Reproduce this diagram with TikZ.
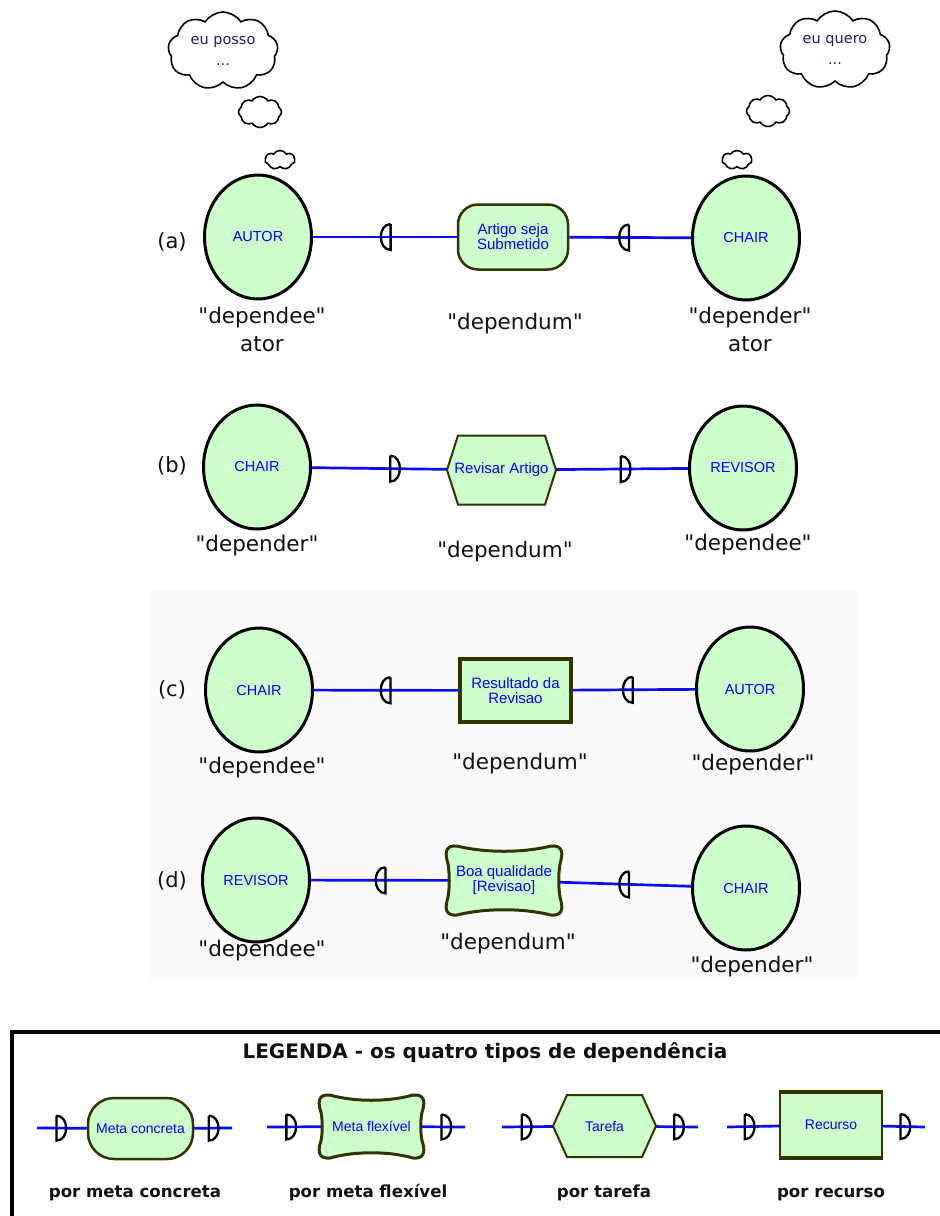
\documentclass[tikz,border=0pt]{standalone}
\usepackage{fontspec}
\usetikzlibrary{shapes.geometric,shapes.symbols}
\newfontfamily\handfont{DejaVu Sans}
\newfontfamily\arialfont{Liberation Sans}
\newfontfamily\legendfont{DejaVu Sans}
\definecolor{actorfill}{HTML}{CCFFCC}
\definecolor{edgeolive}{HTML}{333300}
\definecolor{linkblue}{HTML}{0A0AFF}
\definecolor{textblue}{HTML}{0000FF}
\definecolor{inkdark}{HTML}{111111}
\definecolor{thoughtink}{HTML}{1E2060}
\definecolor{panelgray}{HTML}{FAFAFA}
\tikzset{
  actor/.style={ellipse, draw=black, line width=3pt, fill=actorfill,
    minimum width=107pt, minimum height=124pt, inner sep=0pt,
    font=\arialfont\fontsize{14.5}{15}\selectfont, text=textblue},
  elemtext/.style={align=center, inner sep=0pt,
    font=\arialfont\fontsize{15}{15}\selectfont, text=textblue},
  goalbox/.style={elemtext, rectangle, rounded corners=20pt, draw=edgeolive,
    line width=2.5pt, fill=actorfill},
  resbox/.style={elemtext, rectangle, draw=edgeolive, line width=3.5pt,
    fill=actorfill},
  ghost/.style={elemtext, rectangle},
  dep/.style={draw=linkblue, line width=2.7pt},
  dmk/.style={draw=black, line width=2.3pt},
  tasklines/.style={draw=edgeolive, line width=2pt, fill=actorfill},
  softlines/.style={draw=edgeolive, line width=3pt, fill=actorfill},
  role/.style={align=center, font=\handfont\fontsize{21.5}{28}\selectfont, text=inkdark},
  rowtag/.style={font=\handfont\fontsize{21}{24}\selectfont, text=inkdark},
  legtext/.style={anchor=base, font=\legendfont\bfseries\fontsize{16.6}{18}\selectfont, text=inkdark},
  thought/.style={cloud, cloud ignores aspect, cloud puffs=9, cloud puff arc=115,
    draw=black, line width=1.6pt, fill=white, align=center, inner sep=0pt,
    font=\handfont\fontsize{14.5}{21}\selectfont, text=thoughtink},
  puff/.style={cloud, cloud ignores aspect, cloud puffs=8, cloud puff arc=115,
    draw=black, line width=1.6pt, fill=white, inner sep=0pt},
  % D mark, bulge to the right
  pics/dright/.style={code={\draw[dmk] (0,-#1) -- (0,#1) .. controls (13,#1) and (13,-#1) .. (0,-#1);}},
  % D mark, bulge to the left
  pics/dleft/.style={code={\draw[dmk] (0,-#1) -- (0,#1) .. controls (-13,#1) and (-13,-#1) .. (0,-#1);}},
  % task hexagon: half width, half height, inset of the top edge
  pics/hexa/.style n args={3}{code={\draw[tasklines] (-#1,0) -- (-#1+#3,-#2) -- (#1-#3,-#2)
      -- (#1,0) -- (#1-#3,#2) -- (-#1+#3,#2) -- cycle;}},
  % softgoal outline: half width, half height
  pics/softg/.style n args={2}{code={\draw[softlines]
      (-#1+10,-#2) .. controls (-#1/3,-#2+7) and (#1/3,-#2+7) .. (#1-10,-#2)
      .. controls (#1+1,-#2-1) and (#1+2,-#2+6) .. (#1,-#2+14)
      .. controls (#1-3,-#2/3) and (#1-3,#2/3) .. (#1,#2-14)
      .. controls (#1+2,#2-6) and (#1+1,#2+1) .. (#1-10,#2)
      .. controls (#1/3,#2-7) and (-#1/3,#2-7) .. (-#1+10,#2)
      .. controls (-#1-1,#2+1) and (-#1-2,#2-6) .. (-#1,#2-14)
      .. controls (-#1+3,#2/3) and (-#1+3,-#2/3) .. (-#1,-#2+14)
      .. controls (-#1-2,-#2+6) and (-#1-1,-#2-1) .. (-#1+10,-#2) -- cycle;}},
}
\begin{document}
\begin{tikzpicture}[x=1pt,y=-1pt]
\useasboundingbox (0,0) rectangle (940,1216);
\clip (0,0) rectangle (940,1216);
\fill[white] (0,0) rectangle (940,1216);
\fill[panelgray] (150,590) rectangle (857,980);

% thought clouds
\node[thought, minimum width=110pt, minimum height=78pt] (thinkL) at (223,51) {eu posso\\...};
\node[puff, minimum width=43pt, minimum height=31pt] (thinkL2) at (260,112) {};
\node[puff, cloud puffs=7, minimum width=30pt, minimum height=19pt] (thinkL3) at (280,160) {};
\node[thought, minimum width=110pt, minimum height=78pt] (thinkR) at (835,50) {eu quero\\...};
\node[puff, minimum width=43pt, minimum height=31pt] (thinkR2) at (768,111) {};
\node[puff, cloud puffs=7, minimum width=30pt, minimum height=19pt] (thinkR3) at (737,160) {};

% ---- (a) goal dependency
\node[rowtag] (tagA) at (172,242) {(a)};
\node[actor] (autorA) at (258,237) {AUTOR};
\node[goalbox, minimum width=110pt, minimum height=65pt] (goalA) at (513,237) {Artigo seja\\Submetido};
\node[actor] (chairA) at (746,238) {CHAIR};
\draw[dep] (autorA) -- coordinate[pos=.54] (mA1) (goalA);
\draw[dep] (goalA) -- coordinate[pos=.49] (mA2) (chairA);
\pic at (mA1) {dleft=13};
\pic at (mA2) {dleft=13};
\node[role] (rA1) at (262,329) {"dependee"\\ator};
\node[role] (rA2) at (515,324) {"dependum"};
\node[role] (rA3) at (750,329) {"depender"\\ator};

% ---- (b) task dependency
\node[rowtag] (tagB) at (172,466) {(b)};
\node[actor] (chairB) at (257,467) {CHAIR};
\node[ghost, minimum width=109pt, minimum height=69pt] (taskB) at (501.5,470) {};
\node[actor] (revB) at (743,468) {REVISOR};
\draw[dep] (chairB) -- coordinate[pos=.58] (mB1) (taskB);
\draw[dep] (taskB) -- coordinate[pos=.49] (mB2) (revB);
\pic at (taskB) {hexa={54.5}{34.5}{11}};
\node[elemtext] at (taskB) {Revisar Artigo};
\pic at (mB1) {dright=13};
\pic at (mB2) {dright=13};
\node[role] (rB1) at (257,546) {"depender"};
\node[role] (rB2) at (505,552) {"dependum"};
\node[role] (rB3) at (748,545) {"dependee"};

% ---- (c) resource dependency
\node[rowtag] (tagC) at (172,690) {(c)};
\node[actor] (chairC) at (259,690) {CHAIR};
\node[resbox, minimum width=111pt, minimum height=63pt] (resC) at (515.5,690.5) {Resultado da\\Revisao};
\node[actor] (autorC) at (750,689) {AUTOR};
\draw[dep] (chairC) -- coordinate[pos=.53] (mC1) (resC);
\draw[dep] (resC) -- coordinate[pos=.49] (mC2) (autorC);
\pic at (mC1) {dleft=13};
\pic at (mC2) {dleft=13};
\node[role] (rC1) at (262,768) {"dependee"};
\node[role] (rC2) at (520,764) {"dependum"};
\node[role] (rC3) at (753,765) {"depender"};

% ---- (d) softgoal dependency
\node[rowtag] (tagD) at (172,881) {(d)};
\node[actor] (revD) at (256,880) {REVISOR};
\node[ghost, minimum width=110pt, minimum height=66pt] (softD) at (504,880.5) {};
\node[actor] (chairD) at (746,888) {CHAIR};
\draw[dep] (revD) -- coordinate[pos=.54] (mD1) (softD);
\draw[dep] (softD) -- coordinate[pos=.53] (mD2) (chairD);
\pic at (softD) {softg={57}{34.5}};
\node[elemtext] at (softD) {Boa qualidade\\{[Revisao]}};
\pic at (mD1) {dleft=13};
\pic at (mD2) {dleft=13};
\node[role] (rD1) at (262,951) {"dependee"};
\node[role] (rD2) at (508,944) {"dependum"};
\node[role] (rD3) at (752,967) {"depender"};

% ---- legend
\draw[line width=4.5pt] (12,1032) rectangle (980,1260);
\node[font=\legendfont\bfseries\fontsize{20}{22}\selectfont, text=inkdark] (legTitle) at (485,1053)
  {LEGENDA - os quatro tipos de dependência};

% concrete goal
\coordinate (l1s) at (37,1128);
\coordinate (l1e) at (232,1128);
\node[goalbox, rounded corners=26pt, minimum width=105pt, minimum height=61pt,
  font=\arialfont\fontsize{14}{15}\selectfont] (lg1) at (140.5,1128.5) {Meta concreta};
\draw[dep] (l1s) -- coordinate[pos=.39] (n1a) (lg1);
\draw[dep] (lg1) -- coordinate[pos=.385] (n1b) (l1e);
\pic at (n1a) {dright=12.5};
\pic at (n1b) {dright=12.5};
\node[legtext] (lt1) at (135,1197) {por meta concreta};

% softgoal
\coordinate (l2s) at (267,1127);
\coordinate (l2e) at (465,1127);
\node[ghost, minimum width=101pt, minimum height=60pt,
  font=\arialfont\fontsize{14}{15}\selectfont] (lg2) at (371.5,1126.5) {};
\draw[dep] (l2s) -- coordinate[pos=.36] (n2a) (lg2);
\draw[dep] (lg2) -- coordinate[pos=.45] (n2b) (l2e);
\pic at (lg2) {softg={51.5}{31.5}};
\node[elemtext, font=\arialfont\fontsize{14}{15}\selectfont] at (lg2) {Meta flexível};
\pic at (n2a) {dright=12.5};
\pic at (n2b) {dright=12.5};
\node[legtext] (lt2) at (368,1197) {por meta flexível};

% task
\coordinate (l3s) at (502,1127);
\coordinate (l3e) at (698,1127);
\node[ghost, minimum width=103pt, minimum height=62pt] (lg3) at (604.5,1126) {};
\draw[dep] (l3s) -- coordinate[pos=.39] (n3a) (lg3);
\draw[dep] (lg3) -- coordinate[pos=.43] (n3b) (l3e);
\pic at (lg3) {hexa={51.5}{31}{14}};
\node[elemtext, font=\arialfont\fontsize{14}{15}\selectfont] at (lg3) {Tarefa};
\pic at (n3a) {dright=12.5};
\pic at (n3b) {dright=12.5};
\node[legtext] (lt3) at (604,1197) {por tarefa};

% resource
\coordinate (l4s) at (727,1127);
\coordinate (l4e) at (925,1127);
\node[elemtext, rectangle, draw=edgeolive, line width=1.5pt, fill=actorfill,
  minimum width=102pt, minimum height=64pt,
  font=\arialfont\fontsize{14}{15}\selectfont] (lg4) at (831,1125) {Recurso};
\draw[edgeolive, line width=4pt] (lg4.north west) -- (lg4.north east);
\draw[edgeolive, line width=4pt] (lg4.south west) -- (lg4.south east);
\draw[dep] (l4s) -- coordinate[pos=.34] (n4a) (lg4);
\draw[dep] (lg4) -- coordinate[pos=.42] (n4b) (l4e);
\pic at (n4a) {dright=12.5};
\pic at (n4b) {dright=12.5};
\node[legtext] (lt4) at (831,1197) {por recurso};
\end{tikzpicture}
\end{document}
